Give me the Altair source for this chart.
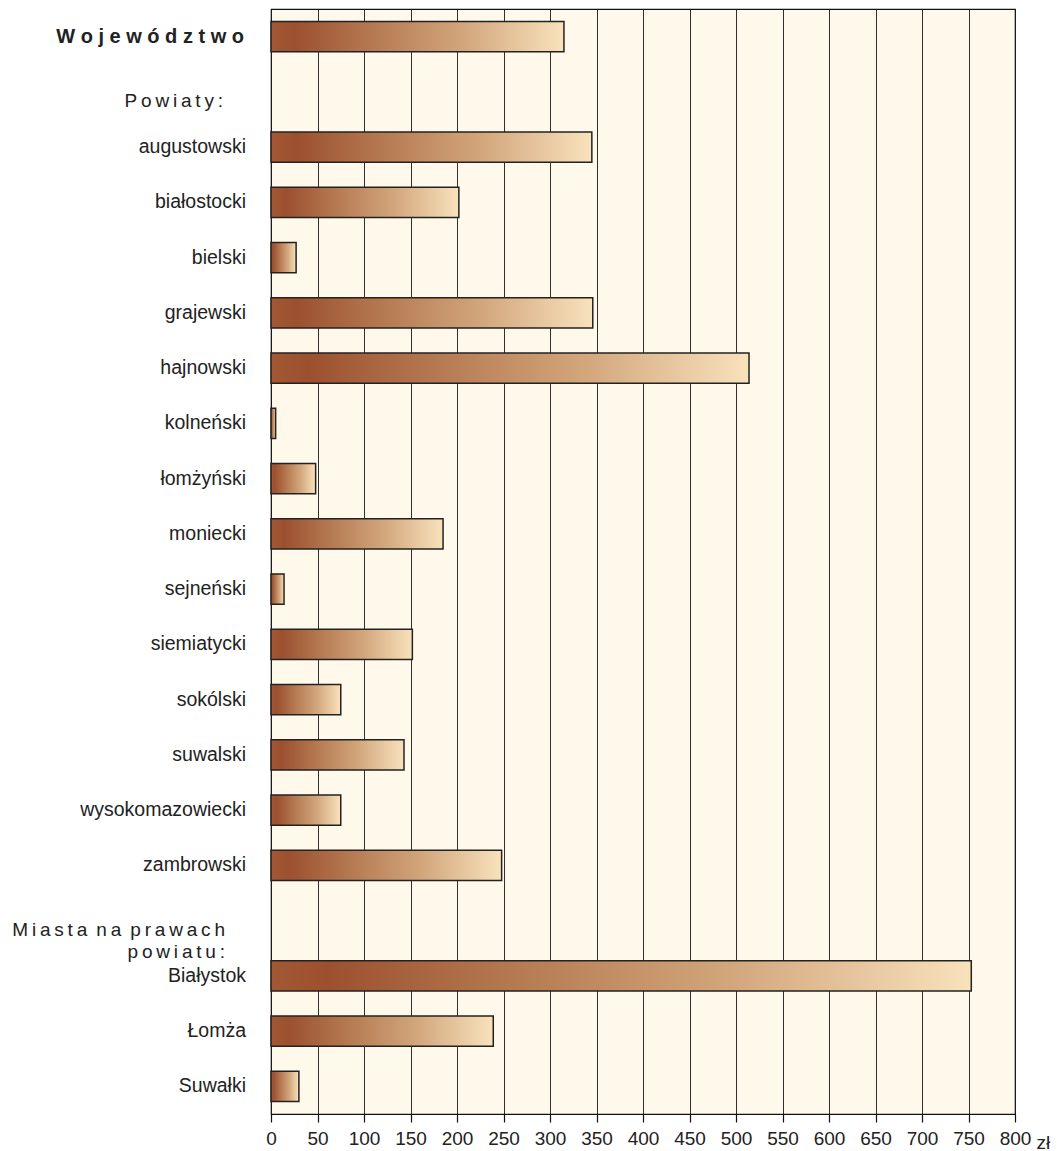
import altair as alt
import pandas as pd

THIN = "\u2009"   # thin space used for the spaced-out header lettering
WORD = "\u00a0\u2009"  # gap between spaced-out words


def spaced(text):
    """Spread a header out letter by letter."""
    return WORD.join(THIN.join(word) for word in text.split(" "))


# Row keys (top to bottom), the text drawn for each row, and the row type
keys = [
    "Województwo", "Powiaty", "augustowski", "białostocki", "bielski",
    "grajewski", "hajnowski", "kolneński", "łomżyński", "moniecki",
    "sejneński", "siemiatycki", "sokólski", "suwalski", "wysokomazowiecki",
    "zambrowski", "Miasta", "Białystok", "Łomża", "Suwałki",
]
labels = [
    "W o j e w ó d z t w o", spaced("Powiaty:"), "augustowski", "białostocki", "bielski",
    "grajewski", "hajnowski", "kolneński", "łomżyński", "moniecki",
    "sejneński", "siemiatycki", "sokólski", "suwalski", "wysokomazowiecki",
    "zambrowski", spaced("Miasta na prawach") + "\n" + spaced("powiatu:"),
    "Białystok", "Łomża", "Suwałki",
]
kinds = [
    "total", "header1", "unit", "unit", "unit",
    "unit", "unit", "unit", "unit", "unit",
    "unit", "unit", "unit", "unit", "unit",
    "unit", "header2", "unit", "unit", "unit",
]
# Values in zł (header rows have no bar)
values = [
    315, None, 345, 202, 27,
    346, 514, 5, 48, 185,
    14, 152, 75, 143, 75,
    248, None, 753, 239, 30,
]

df = pd.DataFrame({"key": keys, "label": labels, "kind": kinds, "value": values})

FONT = "Liberation Sans, Arial, Helvetica, sans-serif"
INK = "#222222"

y_enc = alt.Y(
    "key:N",
    sort=keys,
    axis=None,
    scale=alt.Scale(domain=keys, paddingInner=0.45, paddingOuter=0.225),
)

bar_fill = alt.Gradient(
    gradient="linear",
    x1=0, x2=1, y1=0, y2=0,
    stops=[
        alt.GradientStop(color="#A35834", offset=0.0),
        alt.GradientStop(color="#9C502F", offset=0.08),
        alt.GradientStop(color="#B57A52", offset=0.35),
        alt.GradientStop(color="#D2A57B", offset=0.65),
        alt.GradientStop(color="#F8E2BC", offset=1.0),
    ],
)

bars = (
    alt.Chart(df)
    .transform_filter("isValid(datum.value)")
    .mark_bar(fill=bar_fill, stroke=INK, strokeWidth=1.5, cornerRadius=0)
    .encode(
        x=alt.X(
            "value:Q",
            scale=alt.Scale(domain=[0, 800], nice=False, zero=True),
            axis=alt.Axis(
                values=list(range(0, 801, 50)),
                grid=True,
                gridColor="#1A1A1A",
                gridWidth=1,
                gridOpacity=0.9,
                domainColor="#111111",
                domainWidth=1.2,
                tickColor="#111111",
                tickSize=8,
                tickWidth=1.2,
                labelFont=FONT,
                labelFontSize=19,
                labelColor=INK,
                labelPadding=7,
                labelFlush=False,
                title="zł",
                titleFont=FONT,
                titleFontSize=19,
                titleFontWeight="normal",
                titleColor=INK,
                titleAngle=0,
                titleAlign="left",
                titleBaseline="alphabetic",
                titleX=765,
                titleY=34,
            ),
        ),
        x2=alt.value(0),
        y=y_enc,
    )
)

unit_labels = (
    alt.Chart(df)
    .transform_filter("datum.kind == 'unit'")
    .mark_text(align="right", baseline="middle", font=FONT, fontSize=19.5, color=INK)
    .encode(y=y_enc, x=alt.value(-25), text="label:N")
)

total_label = (
    alt.Chart(df)
    .transform_filter("datum.kind == 'total'")
    .mark_text(align="right", baseline="middle", font=FONT, fontSize=20,
               fontWeight="bold", color=INK)
    .encode(y=y_enc, x=alt.value(-27), text="label:N")
)

powiaty_label = (
    alt.Chart(df)
    .transform_filter("datum.kind == 'header1'")
    .mark_text(align="right", baseline="middle", font=FONT, fontSize=19,
               dy=9, color=INK)
    .encode(y=y_enc, x=alt.value(-48), text="label:N")
)

miasta_label = (
    alt.Chart(df)
    .transform_filter("datum.kind == 'header2'")
    .mark_text(align="right", baseline="middle", font=FONT, fontSize=19,
               lineBreak="\n", lineHeight=22, dy=9, color=INK)
    .encode(y=y_enc, x=alt.value(-46), text="label:N")
)

chart = (
    alt.layer(bars, unit_labels, total_label, powiaty_label, miasta_label)
    .properties(
        width=744,
        height=1105,
        padding={"left": 271, "top": 9, "right": 43, "bottom": 37},
        autosize=alt.AutoSizeParams(type="none"),
        background="#FFFFFF",
    )
    .configure_view(fill="#FFF9EC", stroke="#111111", strokeWidth=1.2)
)

chart.save("out.html", embed_options={"renderer": "svg", "actions": False})
